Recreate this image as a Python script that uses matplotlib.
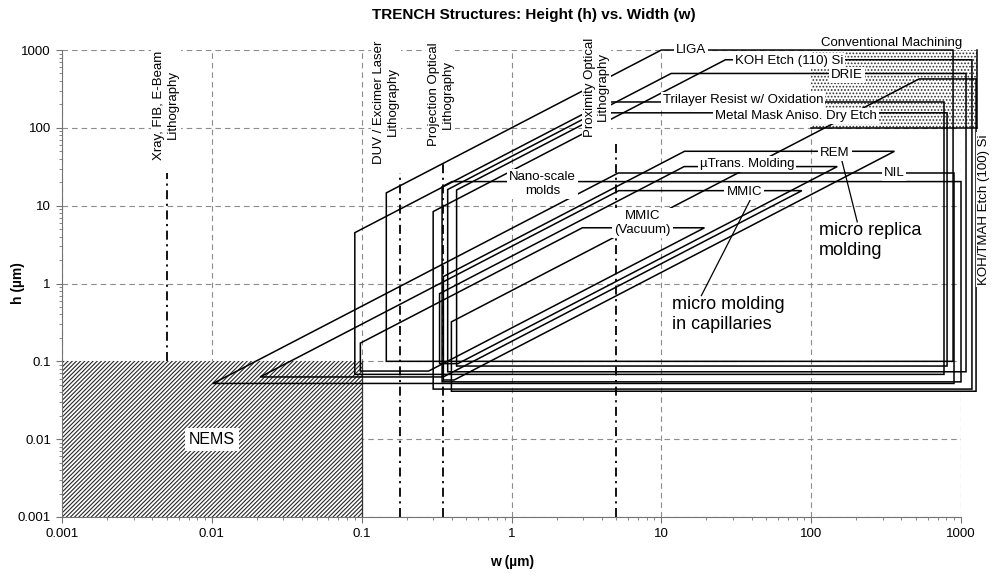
import numpy as np
import matplotlib
matplotlib.use('Agg')
import matplotlib.pyplot as plt
from matplotlib.patches import Polygon, Rectangle

plt.rcParams['font.family'] = ['Liberation Sans', 'DejaVu Sans']
plt.rcParams['hatch.linewidth'] = 0.8

# Ventanas de proceso (um): ancho w, alto h y relación de aspecto h/w
proc_names = ['LIGA', 'KOH Etch (110) Si', 'DRIE', 'Trilayer Resist w/ Oxidation',
              'Metal Mask Aniso. Dry Etch', 'Nano-scale molds', 'NIL', 'MMIC',
              'MMIC (Vacuum)', 'uTrans. Molding', 'REM', 'KOH/TMAH Etch (100) Si']
proc_wmin = [0.146, 0.30, 0.375, 0.09, 0.43, 0.344, 0.0102, 0.0209, 0.098, 0.331, 0.351, 0.397]
proc_wmax = [885, 1183, 1080, 770, 807, 1000, 898, None, None, None, None, 1260]
proc_hmin = [0.1, 0.044, 0.0734, 0.068, 0.087, 0.0545, 0.052, 0.063, 0.075, 0.0935, 0.0576, 0.0413]
proc_hmax = [1000, 750, 500, 215, 156, 20.4, 26.3, 15.6, 5.2, 31.8, 50, 425]
proc_armin = [None, None, None, None, None, None, None, 0.18, 0.268, 0.213, 0.139, None]
proc_armax = [100, 28, 43, 50, 37, 51, 5.1, 3.0, 1.75, 2.24, 3.5, 0.81]

# Límites de litografía (w mínimo) - línea punto-raya
litho_w = [0.005, 0.18, 0.35, 5]
litho_top = [26, 26, 37, 65]
litho_bottom = [0.1, 0.001, 0.001, 0.001]
litho_labels = ['Xray, FIB, E-Beam\nLithography', 'DUV / Excimer Laser\nLithography',
                'Projection Optical\nLithography', 'Proximity Optical\nLithography']

# Mecanizado convencional y NEMS
conv_w = [100, 1280]
conv_h = [100, 1000]
nems_w = [0.001, 0.1]
nems_h = [0.001, 0.1]

ticks = [0.001, 0.01, 0.1, 1, 10, 100, 1000]
tick_labels = ['0.001', '0.01', '0.1', '1', '10', '100', '1000']


def clip_halfplane(pts, a, b, c):
    """Recorta un polígono convexo con a*x + b*y <= c (Sutherland-Hodgman)."""
    out = []
    n = len(pts)
    for i in range(n):
        p, q = pts[i], pts[(i + 1) % n]
        fp = a * p[0] + b * p[1] - c
        fq = a * q[0] + b * q[1] - c
        if fp <= 0:
            out.append(p)
        if fp * fq < 0:
            t = fp / (fp - fq)
            out.append((p[0] + t * (q[0] - p[0]), p[1] + t * (q[1] - p[1])))
    return out


def ventana(wmin, wmax, hmin, hmax, armin, armax):
    """Polígono (en log-log) de la región permitida para un proceso."""
    pts = [(-8, -8), (8, -8), (8, 8), (-8, 8)]
    lw = np.log10
    pts = clip_halfplane(pts, -1, 0, -lw(wmin))
    if wmax is not None:
        pts = clip_halfplane(pts, 1, 0, lw(wmax))
    pts = clip_halfplane(pts, 0, -1, -lw(hmin))
    pts = clip_halfplane(pts, 0, 1, lw(hmax))
    if armax is not None:
        pts = clip_halfplane(pts, -1, 1, lw(armax))
    if armin is not None:
        pts = clip_halfplane(pts, 1, -1, -lw(armin))
    return [(10 ** x, 10 ** y) for x, y in pts]


fig = plt.figure(figsize=(9.97, 5.79), dpi=100)
ax = fig.add_axes([0.0622, 0.1071, 0.9017, 0.8065])
ax.set_xscale('log')
ax.set_yscale('log')
ax.set_xlim(1e-3, 1e3)
ax.set_ylim(1e-3, 1e3)

ax.grid(which='major', color='0.55', lw=0.8, ls=(0, (5, 3.6)), zorder=0)
ax.set_axisbelow(True)
for s in ['top', 'right']:
    ax.spines[s].set_visible(False)
for s in ['left', 'bottom']:
    ax.spines[s].set_color('0.45')
    ax.spines[s].set_linewidth(0.8)
ax.set_xticks(ticks)
ax.set_xticklabels(tick_labels)
ax.set_yticks(ticks)
ax.set_yticklabels(tick_labels)
ax.tick_params(which='major', length=4, color='0.45', labelsize=9.5, pad=4)
ax.tick_params(which='minor', length=2, color='0.45')

# NEMS rayado
ax.add_patch(Rectangle((nems_w[0], nems_h[0]), nems_w[1] - nems_w[0], nems_h[1] - nems_h[0],
                       facecolor='white', edgecolor='0.15', hatch='////////', lw=0, zorder=1))
ax.plot([nems_w[1], nems_w[1]], nems_h, color='0.2', lw=0.9, zorder=1)
ax.text(0.01, 0.01, 'NEMS', fontsize=11.5, ha='center', va='center', zorder=6,
        bbox=dict(boxstyle='square,pad=0.25', fc='white', ec='none'))

# Mecanizado convencional punteado
ax.add_patch(Rectangle((conv_w[0], conv_h[0]), conv_w[1] - conv_w[0], conv_h[1] - conv_h[0],
                       facecolor='white', edgecolor='0.2', hatch='.....', lw=0,
                       zorder=1, clip_on=False))
ax.plot([conv_w[1], conv_w[1]], conv_h, color='k', lw=1.1, zorder=3, clip_on=False)
ax.plot(conv_w, [conv_h[0], conv_h[0]], color='k', lw=1.1, zorder=3, clip_on=False)

# Límites de litografía
for w, top, bot in zip(litho_w, litho_top, litho_bottom):
    ax.plot([w, w], [bot, top], color='k', lw=1.3, ls=(0, (5, 2.5, 1.2, 2.5)), zorder=2)
litho_pos = [(0.00493, 197), (0.1445, 215), (0.336, 272), (3.69, 335)]
for (x, y), txt in zip(litho_pos, litho_labels):
    ax.text(x, y, txt, rotation=90, fontsize=9.5, ha='center', va='center',
            multialignment='center', zorder=6,
            bbox=dict(boxstyle='square,pad=0.15', fc='white', ec='none'))

# Ventanas de cada proceso
for i in range(len(proc_names)):
    poly = ventana(proc_wmin[i], proc_wmax[i], proc_hmin[i], proc_hmax[i],
                   proc_armin[i], proc_armax[i])
    ax.add_patch(Polygon(poly, closed=True, fill=False, ec='k', lw=1.1,
                         zorder=3, clip_on=False))

# Etiquetas sobre el borde superior de cada ventana
etiquetas = [
    ('LIGA', 15.8, 1000), ('KOH Etch (110) Si', 71.3, 720), ('DRIE', 174, 480),
    ('Trilayer Resist w/ Oxidation', 35.2, 228), ('Metal Mask Aniso. Dry Etch', 79.4, 142),
    ('µTrans. Molding', 37.4, 34), ('REM', 144.5, 48), ('NIL', 357, 26.3),
    ('MMIC', 35.7, 15.2), ('Nano-scale\nmolds', 1.61, 19), ('MMIC\n(Vacuum)', 7.47, 6.0),
]
for txt, x, y in etiquetas:
    ax.text(x, y, txt, fontsize=9.5, ha='center', va='center', multialignment='center',
            zorder=6, bbox=dict(boxstyle='square,pad=0.15', fc='white', ec='none'))
ax.text(342, 1230, 'Conventional Machining', fontsize=9.5, ha='center', va='center', zorder=6)
ax.text(1416, 8.9, 'KOH/TMAH Etch (100) Si', rotation=90, fontsize=9.5, ha='center',
        va='center', zorder=6, bbox=dict(boxstyle='square,pad=0.15', fc='white', ec='none'))

# Anotaciones
ax.plot([40.4, 18.5], [13.3, 0.70], color='k', lw=0.9, zorder=4)
ax.text(11.8, 0.4, 'micro molding\nin capillaries', fontsize=13, ha='left', va='center',
        zorder=6, linespacing=1.2)
ax.plot([158.5, 203], [41.3, 6.2], color='k', lw=0.9, zorder=4)
ax.text(113, 3.6, 'micro replica\nmolding', fontsize=13, ha='left', va='center',
        zorder=6, linespacing=1.2)

fig.text(534 / 997, 1 - 15 / 579, 'TRENCH Structures: Height (h) vs. Width (w)',
         fontsize=11, fontweight='bold', ha='center', va='center')
fig.text(512 / 997, 1 - 562 / 579, 'w (µm)', fontsize=10, fontweight='bold',
         ha='center', va='center')
fig.text(18 / 997, 1 - 283 / 579, 'h (µm)', fontsize=10, fontweight='bold',
         ha='center', va='center', rotation=90)

fig.savefig('out.png', dpi=100)
